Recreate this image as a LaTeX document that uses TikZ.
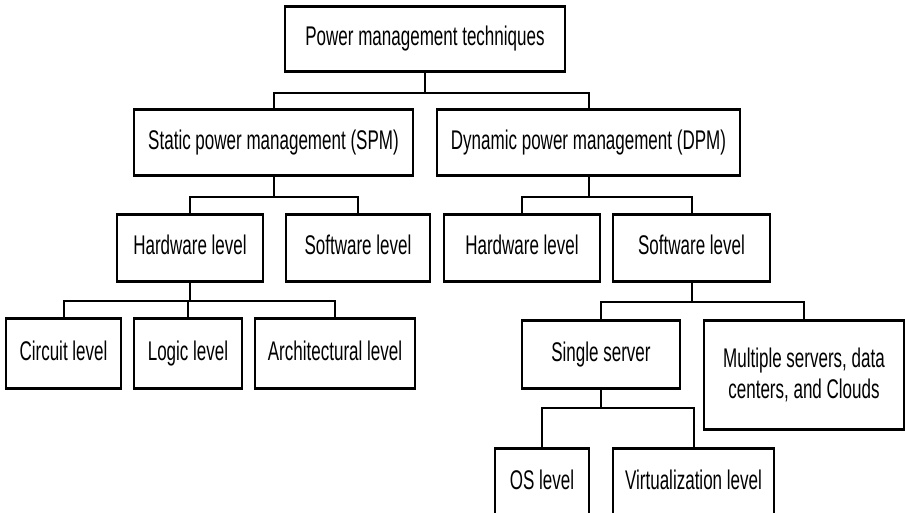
\documentclass[tikz,border=0pt]{standalone}
\usepackage{fontspec}
\newfontfamily\condfont[FakeStretch=0.63]{Liberation Sans}
\begin{document}
\begin{tikzpicture}[x=1pt,y=-1pt,
  box/.style={draw=black, line width=1.6pt, fill=white, inner sep=0pt, align=center,
    text height=19pt, text depth=6pt,
    font=\condfont\fontsize{27}{31}\selectfont},
  conn/.style={draw=black, line width=2pt},
  edgetop/.style={line width=3.4pt},
  edgebot/.style={line width=3pt}]
\clip (0,0) rectangle (905,512);
\fill[white] (0,0) rectangle (905,512);
% nodes (centre, width, height)
\node[box, minimum width=280, minimum height=64] (top) at (425,39) {Power management techniques};
\node[box, minimum width=279, minimum height=65] (spm) at (273.5,142.5) {Static power management (SPM)};
\node[box, minimum width=303, minimum height=65] (dpm) at (588.5,142.5) {Dynamic power management (DPM)};
\node[box, minimum width=146, minimum height=66] (hw1) at (190,248) {Hardware level};
\node[box, minimum width=144, minimum height=66] (sw1) at (358,248) {Software level};
\node[box, minimum width=156, minimum height=66] (hw2) at (522,248) {Hardware level};
\node[box, minimum width=157, minimum height=66] (sw2) at (691.5,248) {Software level};
\node[box, minimum width=115, minimum height=69] (circ) at (63.5,353.5) {Circuit level};
\node[box, minimum width=108, minimum height=69] (logic) at (188,353.5) {Logic level};
\node[box, minimum width=160, minimum height=69] (arch) at (335,353.5) {Architectural level};
\node[box, minimum width=158, minimum height=67] (single) at (601,354.5) {Single server};
\node[box, minimum width=200, minimum height=108, text height=, text depth=] (multi) at (804,375) {Multiple servers, data\\centers, and Clouds};
\node[box, minimum width=94, minimum height=67] (os) at (542,482.5) {OS level};
\node[box, minimum width=161, minimum height=67] (virt) at (693.5,482.5) {Virtualization level};
% thicker top and bottom edges
\foreach \n in {top,spm,dpm,hw1,sw1,hw2,sw2,circ,logic,arch,single,multi,os,virt}{
  \draw[edgetop] (\n.north west) -- (\n.north east);
  \draw[edgebot] (\n.south west) -- (\n.south east);
}
% connectors
\draw[conn] (top.south) -- ++(0,21) -| (spm.north);
\draw[conn] (top.south) ++(0,21) -| (dpm.north);
\draw[conn] (spm.south) -- ++(0,21) -| (hw1.north);
\draw[conn] (spm.south) ++(0,21) -| (sw1.north);
\draw[conn] (dpm.south) -- ++(0,21) -| (hw2.north);
\draw[conn] (dpm.south) ++(0,21) -| (sw2.north);
\draw[conn] (hw1.south) -- ++(0,19) -| (circ.north);
\draw[conn] (hw1.south) ++(0,19) -| (logic.north);
\draw[conn] (hw1.south) ++(0,19) -| (arch.north);
\draw[conn] (sw2.south) -- ++(0,20) -| (single.north);
\draw[conn] (sw2.south) ++(0,20) -| (multi.north);
\draw[conn] (single.south) -- ++(0,19) -| (os.north);
\draw[conn] (single.south) ++(0,19) -| (virt.north);
\end{tikzpicture}
\end{document}
